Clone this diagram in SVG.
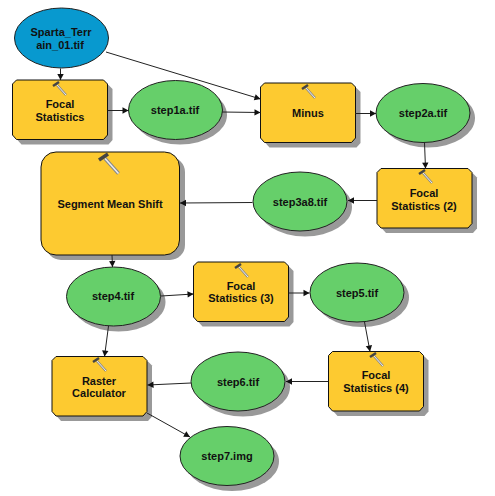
<svg xmlns="http://www.w3.org/2000/svg" width="495" height="496" viewBox="0 0 495 496">
<style>
text{font-family:"Liberation Sans",Arial,sans-serif;font-size:11px;font-weight:bold;fill:#111;text-anchor:middle}
.t{fill:#fdca30;stroke:#111;stroke-width:1}
.d{fill:#66cf6a;stroke:#222;stroke-width:1}
.s{fill:#999}
.c{fill:none;stroke:#222;stroke-width:1;marker-end:url(#a)}
</style>
<defs>
<marker id="a" markerUnits="userSpaceOnUse" markerWidth="8" markerHeight="8" refX="7" refY="4" orient="auto"><path d="M1 0.8L7 4L1 7.2Z" fill="#111"/></marker>
<g id="h"><path d="M4 3L13 13" stroke="#888" stroke-width="2.4" fill="none"/><path d="M4 3L13 13" stroke="#eee" stroke-width="1" fill="none"/><path d="M0 4L6 0" stroke="#444" stroke-width="2.4" fill="none"/></g>
<path id="r" d="M4 0H91L95 4V55L91 59.500H4L0 55V4Z"/>
<ellipse id="e" rx="47" ry="29.500"/>
</defs>
<rect width="495" height="496" fill="#fff"/>
<g id="n1"><ellipse class="d" style="fill:#0899cf" cx="61.500" cy="38" rx="47" ry="30"/><text x="61" y="36">Sparta_Terr</text><text x="60" y="49">ain_01.tif</text></g>
<g id="n2"><use href="#r" class="s" x="17.500" y="85"/><use href="#r" class="t" x="12.500" y="80"/><use href="#h" x="53" y="82"/><text x="60" y="108">Focal</text><text x="60" y="121">Statistics</text></g>
<g id="n3"><use href="#e" class="s" x="180" y="115"/><use href="#e" class="d" x="175.500" y="110"/><text x="175" y="114">step1a.tif</text></g>
<g id="n4"><rect class="s" x="46" y="157" width="139" height="103" rx="15"/><rect class="t" x="41" y="152" width="138.500" height="103" rx="15"/><use href="#h" transform="translate(99 154) scale(1.500)"/><text x="110" y="208">Segment Mean Shift</text></g>
<g id="n5"><use href="#r" class="s" x="265.500" y="88"/><use href="#r" class="t" x="260.500" y="83"/><use href="#h" x="302" y="85"/><text x="308" y="117">Minus</text></g>
<g id="n6"><use href="#e" class="s" x="428" y="118"/><use href="#e" class="d" x="423" y="113"/><text x="423" y="117">step2a.tif</text></g>
<g id="n7"><use href="#r" class="s" x="382" y="173.500"/><use href="#r" class="t" x="377" y="168.500"/><use href="#h" x="419" y="170"/><text x="424" y="197">Focal</text><text x="424" y="210">Statistics (2)</text></g>
<g id="n8"><use href="#e" class="s" x="305" y="207"/><use href="#e" class="d" x="300" y="201.500"/><text x="300" y="206">step3a8.tif</text></g>
<g id="n9"><use href="#e" class="s" x="118.500" y="302"/><use href="#e" class="d" x="113.500" y="296.500"/><text x="113" y="300">step4.tif</text></g>
<g id="n10"><use href="#r" class="s" x="198.500" y="267"/><use href="#r" class="t" x="193.500" y="262"/><use href="#h" x="235" y="264"/><text x="241" y="290">Focal</text><text x="241" y="302">Statistics (3)</text></g>
<g id="n11"><use href="#e" class="s" x="362" y="297.500"/><use href="#e" class="d" x="357" y="292.500"/><text x="357" y="297">step5.tif</text></g>
<g id="n12"><use href="#r" class="s" x="333.500" y="356.500"/><use href="#r" class="t" x="328.500" y="351.500"/><use href="#h" x="370" y="353"/><text x="376" y="379">Focal</text><text x="376" y="392">Statistics (4)</text></g>
<g id="n13"><use href="#e" class="s" x="243" y="387"/><use href="#e" class="d" x="238" y="381.500"/><text x="238" y="386">step6.tif</text></g>
<g id="n14"><use href="#r" class="s" x="57" y="361.500"/><use href="#r" class="t" x="52" y="356.500"/><use href="#h" x="93" y="358"/><text x="99" y="385">Raster</text><text x="99" y="397">Calculator</text></g>
<g id="n15"><use href="#e" class="s" x="232" y="461.500"/><use href="#e" class="d" x="227" y="456"/><text x="227" y="460">step7.img</text></g>
<g id="connectors">
<path class="c" d="M60.500 68.500L60.500 80"/>
<path class="c" d="M107.500 110.500L128.500 110.500"/>
<path class="c" d="M106 52L260.500 99"/>
<path class="c" d="M222 112L260.500 112.500"/>
<path class="c" d="M355 113.500L376 113.500"/>
<path class="c" d="M424.500 142.500L425.500 168.500"/>
<path class="c" d="M377 200.500L348 200.500"/>
<path class="c" d="M252.500 202.500L180 203"/>
<path class="c" d="M112 255L112.500 267"/>
<path class="c" d="M161 296L193.500 294"/>
<path class="c" d="M108.500 326L104.500 356.500"/>
<path class="c" d="M288.500 293L309.500 293"/>
<path class="c" d="M364.500 322L370 351.500"/>
<path class="c" d="M328.500 381.500L286 381.500"/>
<path class="c" d="M191 383L147.500 385"/>
<path class="c" d="M147 413L190 437"/>
</g>
</svg>
